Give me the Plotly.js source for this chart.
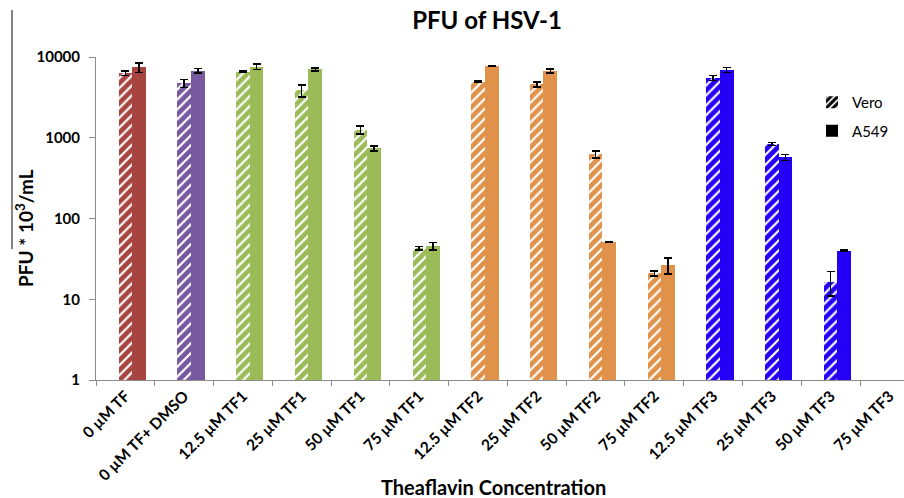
<!DOCTYPE html>
<html>
<head>
<meta charset="utf-8">
<script src="https://cdn.plot.ly/plotly-3.0.1.min.js"></script>
<style>
html,body{margin:0;padding:0;background:#fff;}
#chart{width:904px;height:498px;}
</style>
</head>
<body>
<div id="chart"></div>
<script>
// Categories (x axis)
const categories = ["0 µM TF", "0 µM TF+ DMSO", "12.5 µM TF1", "25 µM TF1", "50 µM TF1", "75 µM TF1",
  "12.5 µM TF2", "25 µM TF2", "50 µM TF2", "75 µM TF2", "12.5 µM TF3", "25 µM TF3", "50 µM TF3", "75 µM TF3"];

// PFU * 10^3 / mL
const veroValues = [6300, 4720, 6580, 3850, 1250, 42.8, 4950, 4580, 624, 20.9, 5540, 837, 16.5, null];
const veroErrors = [400, 550, 100, 650, 140, 2, 100, 300, 60, 1.5, 400, 40, 5.5, null];
const a549Values = [7450, 6760, 7590, 7030, 740, 45.6, 7800, 6710, 51.2, 26.6, 6900, 572, 40, null];
const a549Errors = [1000, 400, 550, 300, 55, 5, 100, 400, 1, 6, 500, 50, 0.5, null];

// Per-category colours
const groupColors = ["#A8443F", "#7659A0", "#9BBB59", "#9BBB59", "#9BBB59", "#9BBB59",
  "#E0924A", "#E0924A", "#E0924A", "#E0924A", "#2300F5", "#2300F5", "#2300F5", "#2300F5"];

const yTickVals = [1, 10, 100, 1000, 10000];
const yTickText = ["1", "10", "100", "1000", "10000"];

const FONT = "Lato, 'Open Sans', 'DejaVu Sans', sans-serif";

const errStyle = {type: "data", visible: true, color: "#000", thickness: 1.5, width: 4};

// hatched bars: coloured diagonal bands with thin white gaps (white plot background shows through)
const traceVero = {
  type: "bar", name: "Vero", x: categories, y: veroValues,
  offset: -0.114, width: 0.228,
  marker: {
    color: groupColors,
    line: {width: 0},
    pattern: {shape: "/", fillmode: "replace", size: 7, solidity: 0.68}
  },
  error_y: Object.assign({array: veroErrors}, errStyle),
  showlegend: false, hoverinfo: "x+y"
};
const traceA549 = {
  type: "bar", name: "A549", x: categories, y: a549Values,
  offset: 0.114, width: 0.236,
  marker: {color: groupColors, line: {width: 0}},
  error_y: Object.assign({array: a549Errors}, errStyle),
  showlegend: false, hoverinfo: "x+y"
};
// legend keys (black, as in the original)
const legVero = {
  type: "bar", name: "Vero", x: [categories[13]], y: [null], legendgroup: "a",
  marker: {color: "#000", pattern: {shape: "/", fillmode: "replace", size: 6, solidity: 0.65}}
};
const legA549 = {
  type: "bar", name: "A549", x: [categories[13]], y: [null], legendgroup: "b",
  marker: {color: "#000"}
};

const W = 904, H = 498, L = 96, R = 0, T = 57, B = 118;
const pw = W - L - R, ph = H - T - B;
const catPx = 58.77;

const bold = s => "<b>" + s + "</b>";

const layout = {
  width: W, height: H,
  margin: {l: L, r: R, t: T, b: B, pad: 0},
  paper_bgcolor: "#fff", plot_bgcolor: "#fff",
  font: {family: FONT, color: "#000"},
  title: {text: "<b>PFU of HSV-1</b>", font: {family: FONT, size: 24, color: "#000"},
          x: 487 / W, xanchor: "center", xref: "container", y: 1 - 21 / H, yanchor: "middle", yref: "container"},
  barmode: "overlay",
  bargap: 0,
  xaxis: {
    type: "category",
    range: [-0.5, -0.5 + pw / catPx],
    tickmode: "array", tickvals: categories, ticktext: categories.map(bold),
    showline: true, linecolor: "#8c8c8c", linewidth: 1,
    ticks: "outside", tickson: "boundaries", ticklen: 5, tickcolor: "#8c8c8c",
    tickangle: -45,
    tickfont: {family: FONT, size: 15.5, color: "#000"},
    showgrid: false, zeroline: false
  },
  yaxis: {
    type: "log",
    range: [0, 4],
    tickvals: yTickVals, ticktext: yTickText.map(bold),
    showline: true, linecolor: "#8c8c8c", linewidth: 1,
    ticks: "outside", ticklen: 6, tickcolor: "#8c8c8c",
    ticklabelstandoff: 6,
    tickfont: {family: FONT, size: 15, color: "#000"},
    showgrid: false, zeroline: false
  },
  legend: {
    x: (812 - L) / pw, xanchor: "left", y: 1 - (86 - T) / ph, yanchor: "top",
    font: {family: FONT, size: 15, color: "#000"},
    bgcolor: "rgba(0,0,0,0)", traceorder: "grouped", tracegroupgap: 6,
    itemwidth: 30
  },
  annotations: [
    {text: "<b>PFU * 10<sup>3</sup>/mL</b>", xref: "paper", yref: "paper",
     x: (24 - L) / pw, y: (H - B - 228) / ph, xanchor: "center", yanchor: "middle",
     textangle: -90, showarrow: false, font: {family: FONT, size: 19, color: "#000"}},
    {text: "<b>Theaflavin Concentration</b>", xref: "paper", yref: "paper",
     x: (493 - L) / pw, y: (H - B - 487) / ph, xanchor: "center", yanchor: "middle",
     showarrow: false, font: {family: FONT, size: 20, color: "#000"}}
  ],
  shapes: [
    {type: "line", xref: "paper", yref: "paper",
     x0: (12 - L) / pw, x1: (12 - L) / pw, y0: (H - B - 10) / ph, y1: (H - B - 249) / ph,
     line: {color: "#333", width: 1.2}}
  ]
};

Plotly.newPlot("chart", [traceVero, traceA549, legVero, legA549], layout, {displayModeBar: false, staticPlot: true});
</script>
</body>
</html>
